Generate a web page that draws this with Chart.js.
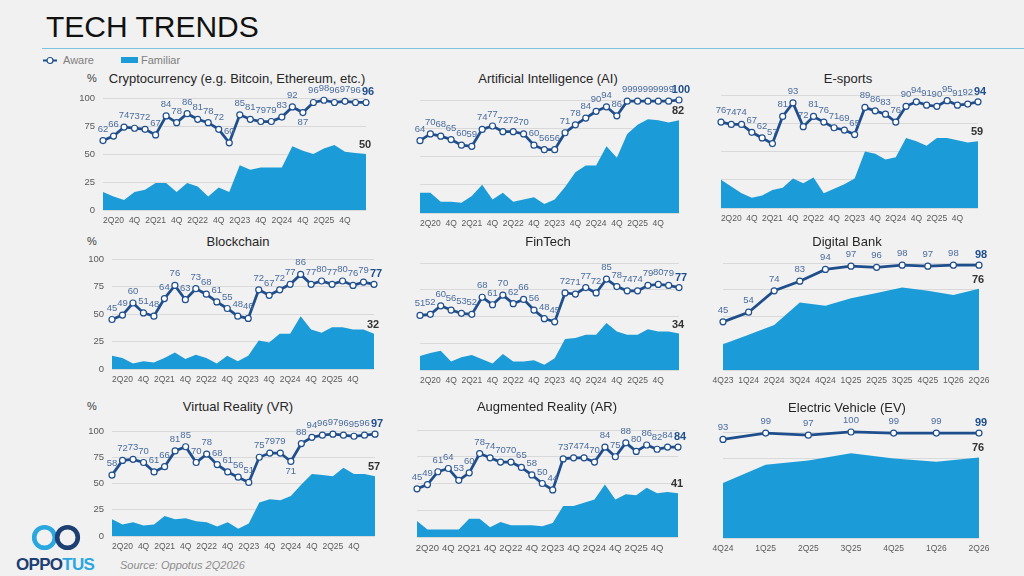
<!DOCTYPE html>
<html lang="en">
<head>
  <meta charset="UTF-8" />
  <title>Tech Trends</title>
  <script src="https://cdn.jsdelivr.net/npm/chart.js"></script>
  <style>
    body { margin: 0; background: #f1f1f1; font-family: "Liberation Sans", Arial, sans-serif; }
    #stage { position: relative; width: 1024px; height: 576px; overflow: hidden; background: #f1f1f1; }
    #stage canvas { position: absolute; }
    .abs { position: absolute; white-space: nowrap; line-height: 1; }
    .ptitle { font-size: 13px; color: #262626; transform: translate(-50%, -50%); }
    .pct { font-size: 11px; color: #404040; transform: translate(-50%, -50%); }
    .rule { position: absolute; left: 42px; right: 0; top: 48px; height: 1px; background: #7cc3dd; }
    .legend { font-size: 11px; color: #7f7f7f; }
  </style>
</head>
<body>
<div id="stage">
  <div class="abs" style="left:46px;top:12px;font-size:30px;color:#111;">TECH TRENDS</div>
  <div class="rule"></div>
  <svg class="abs" style="left:43px;top:56px" width="14" height="9">
    <line x1="0" y1="4.5" x2="14" y2="4.5" stroke="#1f4e8c" stroke-width="2"/>
    <circle cx="7" cy="4.5" r="3" fill="#fff" stroke="#1f4e8c" stroke-width="1.2"/>
  </svg>
  <div class="abs legend" style="left:63px;top:55px;">Aware</div>
  <div class="abs" style="left:121px;top:57px;width:17px;height:6px;background:#1b9bd7;"></div>
  <div class="abs legend" style="left:141px;top:55px;">Familiar</div>

  <svg class="abs" style="left:30px;top:524px" width="54" height="28">
    <circle cx="14.5" cy="13.5" r="10.3" fill="none" stroke="#2aa7df" stroke-width="4.6"/>
    <circle cx="37.5" cy="13.5" r="10.3" fill="none" stroke="#1d3f72" stroke-width="4.6"/>
  </svg>
  <div class="abs" style="left:16px;top:556px;font-size:17px;font-weight:bold;letter-spacing:-0.7px;color:#1d3f72;">OPPO<span style="color:#2aa7df">TUS</span></div>
  <div class="abs" style="left:120px;top:560px;font-size:11px;font-style:italic;color:#8c8c8c;">Source: Oppotus 2Q2026</div>
</div>
<script>
  // quarter categories
  const quarters = ['1Q20','2Q20','3Q20','4Q20','1Q21','2Q21','3Q21','4Q21','1Q22','2Q22','3Q22','4Q22',
    '1Q23','2Q23','3Q23','4Q23','1Q24','2Q24','3Q24','4Q24','1Q25','2Q25','3Q25','4Q25','1Q26','2Q26'];
  const quarterTicks = ['','2Q20','','4Q','','2Q21','','4Q','','2Q22','','4Q',
    '','2Q23','','4Q','','2Q24','','4Q','','2Q25','','4Q','',''];
  const bankQuarters = ['4Q23','1Q24','2Q24','3Q24','4Q24','1Q25','2Q25','3Q25','4Q25','1Q26','2Q26'];
  const evQuarters = ['4Q24','1Q25','2Q25','3Q25','4Q25','1Q26','2Q26'];

  // values (%)
  const cryptoAware = [62,66,74,73,72,67,84,78,86,81,78,72,60,85,81,79,79,83,92,87,96,98,96,97,96,96];
  const cryptoFamiliar = [16,12,9,16,18,24,24,16,24,21,12,20,16,40,36,38,38,38,57,53,50,55,58,52,51,50];
  const aiAware = [64,70,68,65,60,59,74,77,72,72,70,60,56,56,71,78,84,90,94,86,99,99,99,99,99,100];
  const aiFamiliar = [18,18,10,10,9,15,25,12,18,10,12,14,8,12,23,36,42,42,59,49,70,78,83,82,80,82];
  const esportsAware = [76,74,74,67,62,57,81,93,72,81,76,71,69,65,89,86,83,76,90,94,91,90,95,91,92,94];
  const esportsFamiliar = [25,19,13,9,11,16,18,26,22,27,13,17,21,26,50,48,43,45,62,59,55,62,62,60,58,59];
  const blockchainAware = [45,49,60,51,48,64,76,63,73,68,61,55,48,46,72,67,72,77,86,77,80,77,80,76,79,77];
  const blockchainFamiliar = [12,10,5,7,6,10,15,9,13,10,5,12,7,12,26,24,32,32,48,36,33,38,38,36,36,32];
  const fintechAware = [51,52,60,56,53,52,68,61,70,62,66,56,48,45,72,71,77,72,85,78,74,74,79,80,79,77];
  const fintechFamiliar = [13,16,18,8,12,14,10,6,15,8,8,9,5,11,29,30,33,33,44,36,33,33,38,36,36,34];
  const bankAware = [45,54,74,83,94,97,96,98,97,98,98];
  const bankFamiliar = [24,33,42,63,60,67,72,77,74,70,76];
  const vrAware = [58,72,73,70,61,66,81,85,70,78,68,61,56,51,75,79,79,71,88,94,96,97,96,95,96,97];
  const vrFamiliar = [16,11,13,10,11,19,16,17,14,13,9,13,7,12,32,35,34,38,49,59,58,57,65,59,59,57];
  const arAware = [45,49,61,64,53,60,78,74,70,70,65,58,50,44,73,74,74,70,84,75,88,80,86,82,84,84];
  const arFamiliar = [15,7,7,7,7,17,17,9,14,11,11,11,10,13,29,29,32,35,49,35,40,39,46,41,42,41];
  const evAware = [93,99,97,100,99,99,99];
  const evFamiliar = [52,69,73,80,75,72,76];

  const NAVY = '#1f4e8c';
  const BLUE = '#1b9bd7';
  Chart.defaults.font.family = '"Liberation Sans", Arial, sans-serif';

  // rect = plot area [left, top(100%), right, bottom(0%)], title = centre of heading
  const panels = [
    { name: 'Cryptocurrency (e.g. Bitcoin, Ethereum, etc.)', aware: cryptoAware, familiar: cryptoFamiliar, labels: quarters, ticks: quarterTicks, rect: [103, 98, 366, 210], title: [237, 78], pct: [92, 78], yTicks: true, below: [19] },
    { name: 'Artificial Intelligence (AI)', aware: aiAware, familiar: aiFamiliar, labels: quarters, ticks: quarterTicks, rect: [420, 100, 679, 213], title: [548, 78] },
    { name: 'E-sports', aware: esportsAware, familiar: esportsFamiliar, labels: quarters, ticks: quarterTicks, rect: [721, 95, 978, 208], title: [848, 78] },
    { name: 'Blockchain', aware: blockchainAware, familiar: blockchainFamiliar, labels: quarters, ticks: quarterTicks, rect: [112, 259, 374, 369], title: [238, 241], pct: [92, 241], yTicks: true },
    { name: 'FinTech', aware: fintechAware, familiar: fintechFamiliar, labels: quarters, ticks: quarterTicks, rect: [420, 263, 679, 370], title: [548, 241] },
    { name: 'Digital Bank', aware: bankAware, familiar: bankFamiliar, labels: bankQuarters, ticks: bankQuarters, rect: [723, 263, 979, 370], title: [847, 241] },
    { name: 'Virtual Reality (VR)', aware: vrAware, familiar: vrFamiliar, labels: quarters, ticks: quarterTicks, rect: [112, 431, 375, 536], title: [238, 406], pct: [92, 406], yTicks: true, below: [17] },
    { name: 'Augmented Reality (AR)', aware: arAware, familiar: arFamiliar, labels: quarters, ticks: quarterTicks, rect: [417, 430, 678, 537], title: [547, 406], tickSize: 9.5 },
    { name: 'Electric Vehicle (EV)', aware: evAware, familiar: evFamiliar, labels: evQuarters, ticks: evQuarters, rect: [723, 432, 979, 538], title: [847, 407] }
  ];

  // value labels: above each Aware point, last ones bold, plus last Familiar value
  const labelPlugin = {
    id: 'pointLabels',
    afterDatasetsDraw(chart, args, opts) {
      const ctx = chart.ctx;
      const aw = chart.data.datasets[0].data;
      const fa = chart.data.datasets[1].data;
      const pts = chart.getDatasetMeta(0).data;
      const area = chart.getDatasetMeta(1).data;
      const n = aw.length;
      ctx.save();
      ctx.textAlign = 'center';
      pts.forEach((pt, i) => {
        const last = i === n - 1;
        ctx.font = (last ? 'bold 11px' : '9.5px') + ' "Liberation Sans", Arial, sans-serif';
        ctx.fillStyle = last ? NAVY : '#4a6c9e';
        if ((opts.below || []).includes(i)) {
          ctx.textBaseline = 'top';
          ctx.fillText(aw[i], pt.x, pt.y + 5);
        } else {
          ctx.textBaseline = 'alphabetic';
          ctx.fillText(aw[i], pt.x + (last ? 2 : 0), pt.y - (last ? 7 : 9));
        }
      });
      const p = area[n - 1];
      ctx.font = 'bold 11px "Liberation Sans", Arial, sans-serif';
      ctx.fillStyle = '#333';
      ctx.textBaseline = 'alphabetic';
      ctx.fillText(fa[n - 1], p.x - 1, p.y - 6);
      ctx.restore();
    }
  };

  const stage = document.getElementById('stage');
  const W = 34, T = 22, R = 22, H = 20;

  panels.forEach(p => {
    const [l, t, r, b] = p.rect;
    const head = document.createElement('div');
    head.className = 'abs ptitle';
    head.style.left = p.title[0] + 'px';
    head.style.top = p.title[1] + 'px';
    head.textContent = p.name;
    stage.appendChild(head);
    if (p.pct) {
      const pc = document.createElement('div');
      pc.className = 'abs pct';
      pc.style.left = p.pct[0] + 'px';
      pc.style.top = p.pct[1] + 'px';
      pc.textContent = '%';
      stage.appendChild(pc);
    }

    const cv = document.createElement('canvas');
    cv.width = r - l + W + R;
    cv.height = b - t + T + H;
    cv.style.left = (l - W) + 'px';
    cv.style.top = (t - T) + 'px';
    stage.appendChild(cv);

    new Chart(cv, {
      type: 'line',
      data: {
        labels: p.labels,
        datasets: [
          { label: 'Aware', data: p.aware, borderColor: NAVY, borderWidth: 2.75, pointRadius: 3,
            pointBackgroundColor: '#fff', pointBorderColor: NAVY, pointBorderWidth: 1.2,
            fill: false, tension: 0, clip: false },
          { label: 'Familiar', data: p.familiar, borderWidth: 0, pointRadius: 0,
            backgroundColor: BLUE, fill: 'origin', tension: 0 }
        ]
      },
      options: {
        responsive: false,
        animation: false,
        events: [],
        layout: { padding: { top: T, right: R, left: 0, bottom: 0 } },
        plugins: {
          legend: { display: false },
          tooltip: { enabled: false },
          pointLabels: { below: p.below || [] }
        },
        scales: {
          x: {
            grid: { display: false, drawTicks: false },
            border: { display: false },
            ticks: {
              autoSkip: false, maxRotation: 0, padding: 6, color: '#595959',
              font: { size: p.tickSize || 8.5 },
              callback: (v, i) => p.ticks[i]
            },
            afterFit: s => { s.height = H; s.paddingLeft = 0; s.paddingRight = 0; }
          },
          y: {
            min: 0, max: 100,
            grid: { color: '#d9d9d9', drawTicks: false },
            border: { display: false },
            ticks: { display: !!p.yTicks, stepSize: 25, padding: 8, color: '#595959', font: { size: 9.5 } },
            afterFit: s => { s.width = W; s.paddingTop = 0; s.paddingBottom = 0; }
          }
        }
      },
      plugins: [labelPlugin]
    });
  });
</script>
</body>
</html>
